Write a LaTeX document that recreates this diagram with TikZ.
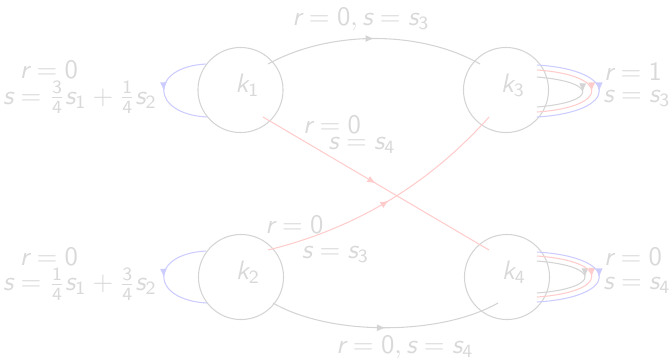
\documentclass[tikz,border=0pt]{standalone}
\usepackage{amsmath}
\usetikzlibrary{arrows.meta,decorations.markings}
\newcommand\mv[1]{\text{\sffamily\slshape #1}}
\newcommand\md[1]{\text{\sffamily #1}}
\tikzset{
  lbl/.style={text=black!15, inner sep=0pt},
  state/.style={circle, draw=black!17, line width=0.4pt, minimum size=31.9pt, inner sep=0pt},
  midarrow/.style={postaction={decorate}, decoration={markings, mark=at position 0.5 with {\arrow[color=#1]{Latex[length=3.2pt,width=2.6pt]}}}},
  grayedge/.style={draw=black!17, line width=0.4pt, midarrow=black!17},
  rededge/.style={draw=red!20, line width=0.4pt, midarrow=red!20},
  blueedge/.style={draw=blue!20, line width=0.4pt, midarrow=blue!20},
}
\begin{document}
\begin{tikzpicture}[x=0.375pt, y=-0.375pt]
\useasboundingbox (0,0) rectangle (670,358);
% states
\node[state] (k1) at (240.5,90) {};
\node[state] (k3) at (506,90) {};
\node[state] (k2) at (241,277) {};
\node[state] (k4) at (507,277) {};
\node[lbl] (t1) at (247.5,85) {$\mv{k}_{\md{1}}$};
\node[lbl] (t3) at (513,85) {$\mv{k}_{\md{3}}$};
\node[lbl] (t2) at (248,272) {$\mv{k}_{\md{2}}$};
\node[lbl] (t4) at (514,272) {$\mv{k}_{\md{4}}$};
% anchor points
\coordinate (k1a) at ([shift={(27.5,-26)}]k1.center);
\coordinate (k1r) at ([shift={(22.5,27)}]k1.center);
\coordinate (k1bt) at ([shift={(-34.5,-26)}]k1.center);
\coordinate (k1bb) at ([shift={(-33.5,27)}]k1.center);
\coordinate (k3a) at ([shift={(-26,-26)}]k3.center);
\coordinate (k3r) at ([shift={(-17,27)}]k3.center);
\coordinate (k3gt) at ([shift={(31,-13)}]k3.center);
\coordinate (k3gb) at ([shift={(31,17)}]k3.center);
\coordinate (k3rt) at ([shift={(31,-20)}]k3.center);
\coordinate (k3rb) at ([shift={(31,22)}]k3.center);
\coordinate (k3bt) at ([shift={(31,-25)}]k3.center);
\coordinate (k3bb) at ([shift={(31,27)}]k3.center);
\coordinate (k2a) at ([shift={(32,26)}]k2.center);
\coordinate (k2r) at ([shift={(27,-27)}]k2.center);
\coordinate (k2bt) at ([shift={(-35,-26)}]k2.center);
\coordinate (k2bb) at ([shift={(-34,26)}]k2.center);
\coordinate (k4a) at ([shift={(-9,26)}]k4.center);
\coordinate (k4r) at ([shift={(-18,-27)}]k4.center);
\coordinate (k4gt) at ([shift={(30,-16)}]k4.center);
\coordinate (k4gb) at ([shift={(30,16)}]k4.center);
\coordinate (k4rt) at ([shift={(30,-21)}]k4.center);
\coordinate (k4rb) at ([shift={(30,20)}]k4.center);
\coordinate (k4bt) at ([shift={(30,-25)}]k4.center);
\coordinate (k4bb) at ([shift={(30,25)}]k4.center);
% edges
\draw[grayedge] (k1a) .. controls +(62,-34) and +(-60,-34) .. (k3a);
\draw[grayedge] (k2a) .. controls +(57,33) and +(-58,33) .. (k4a);
\draw[rededge] (k1r) -- (k4r);
\draw[rededge] (k2r) .. controls +(87.4,-21.4) and +(-60,67.2) .. (k3r);
% loops
\draw[blueedge] (k1bt) .. controls +(-57,3) and +(-57,-3) .. (k1bb);
\draw[blueedge] (k2bt) .. controls +(-57,3) and +(-57,-3) .. (k2bb);
\draw[grayedge] (k3gt) .. controls +(61,5) and +(61,-5) .. (k3gb);
\draw[rededge] (k3rt) .. controls +(73,5) and +(73,-5) .. (k3rb);
\draw[blueedge] (k3bt) .. controls +(83,5) and +(83,-5) .. (k3bb);
\draw[grayedge] (k4gt) .. controls +(64,5) and +(64,-5) .. (k4gb);
\draw[rededge] (k4rt) .. controls +(73,5) and +(73,-5) .. (k4rb);
\draw[blueedge] (k4bt) .. controls +(83,5) and +(83,-5) .. (k4bb);
% labels
\node[lbl] (l1a) at (49,70) {$\mv{r}=\md{0}$};
\node[lbl] (l1b) at (80,97.5) {$\mv{s}=\frac{\md{3}}{\md{4}}\mv{s}_{\md{1}}+\frac{\md{1}}{\md{4}}\mv{s}_{\md{2}}$};
\node[lbl] (l2a) at (49,256.5) {$\mv{r}=\md{0}$};
\node[lbl] (l2b) at (80,284) {$\mv{s}=\frac{\md{1}}{\md{4}}\mv{s}_{\md{1}}+\frac{\md{3}}{\md{4}}\mv{s}_{\md{2}}$};
\node[lbl] (l3a) at (633,71.5) {$\mv{r}=\md{1}$};
\node[lbl] (l3b) at (637,98.5) {$\mv{s}=\mv{s}_{\md{3}}$};
\node[lbl] (l4a) at (633,257) {$\mv{r}=\md{0}$};
\node[lbl] (l4b) at (637,285) {$\mv{s}=\mv{s}_{\md{4}}$};
\node[lbl] (ltop) at (361,19) {$\mv{r}=\md{0},\mv{s}=\mv{s}_{\md{3}}$};
\node[lbl] (lbot) at (405,347) {$\mv{r}=\md{0},\mv{s}=\mv{s}_{\md{4}}$};
\node[lbl] (lm1a) at (332,124.5) {$\mv{r}=\md{0}$};
\node[lbl] (lm1b) at (362,145.5) {$\mv{s}=\mv{s}_{\md{4}}$};
\node[lbl] (lm2a) at (294.5,224.5) {$\mv{r}=\md{0}$};
\node[lbl] (lm2b) at (335.5,254.5) {$\mv{s}=\mv{s}_{\md{3}}$};
\end{tikzpicture}
\end{document}
